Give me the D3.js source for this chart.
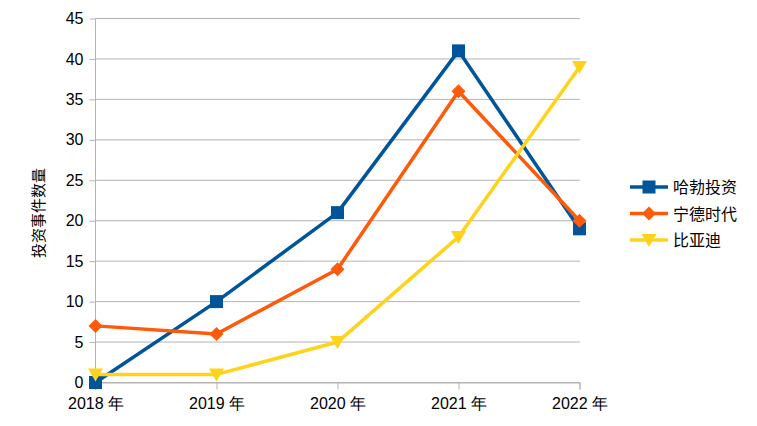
<!DOCTYPE html>
<html><head><meta charset="utf-8">
<script src="https://cdn.jsdelivr.net/npm/d3@7"></script>
<style>body{margin:0;background:#fff}svg{display:block;font-family:"Liberation Sans","Noto Sans CJK SC",sans-serif}</style>
</head><body><svg id="c" width="757" height="426"></svg>
<script>
const categories = ["2018 年","2019 年","2020 年","2021 年","2022 年"];
const seriesNames = ["哈勃投资","宁德时代","比亚迪"];
const haboValues = [0,10,21,41,19];
const ningdeValues = [7,6,14,36,20];
const byd = [1,1,5,18,39];
const yTicks = [0,5,10,15,20,25,30,35,40,45];
const yTitle = "投资事件数量";

const colors = ["#00559a","#ff5a0a","#ffd31c"];
const shapes = ["square","diamond","triangle"];
const series = [haboValues, ningdeValues, byd];

const svg = d3.select("#c");
const x = d3.scalePoint().domain(categories).range([95.5,579.5]);
const y = d3.scaleLinear().domain([0,45]).range([382.5,18.5]);

svg.append("g").selectAll("line").data(yTicks).join("line")
  .attr("x1",95.5).attr("x2",580).attr("y1",d=>y(d)).attr("y2",d=>y(d))
  .attr("stroke","#b3b3b3").attr("stroke-width",1);

const yAxis = svg.append("g").attr("transform","translate(95.5,0)")
  .call(d3.axisLeft(y).tickValues(yTicks).tickSize(6).tickPadding(6));
yAxis.select(".domain").attr("stroke","#b3b3b3").attr("d","M0,18.5V390");
yAxis.selectAll(".tick line").attr("stroke","#b3b3b3");
yAxis.selectAll("text").attr("font-size",16).attr("fill","#000").attr("font-family","Liberation Sans");

const xAxis = svg.append("g").attr("transform","translate(0,382.5)")
  .call(d3.axisBottom(x).tickSize(7).tickPadding(8));
xAxis.select(".domain").attr("stroke","#b3b3b3");
xAxis.selectAll(".tick line").attr("stroke","#b3b3b3");
xAxis.selectAll("text").attr("font-size",16).attr("fill","#000");

svg.append("text").attr("transform","translate(43.5,213) rotate(-90)")
  .attr("text-anchor","middle").attr("font-size",15).attr("fill","#000").text(yTitle);

const line = d3.line().x((d,i)=>x(categories[i])).y(d=>y(d));
function marker(g, shape, cx, cy, color){
  if(shape==="square") g.append("rect").attr("x",cx-6.5).attr("y",cy-6.5).attr("width",13).attr("height",13).attr("fill",color);
  else if(shape==="diamond") g.append("path").attr("d",`M${cx},${cy-7}L${cx+7},${cy}L${cx},${cy+7}L${cx-7},${cy}Z`).attr("fill",color);
  else g.append("path").attr("d",`M${cx-7.5},${cy-6}L${cx+7.5},${cy-6}L${cx},${cy+7}Z`).attr("fill",color);
}
series.forEach((vals,si)=>{
  const g = svg.append("g");
  g.append("path").datum(vals).attr("d",line).attr("fill","none").attr("stroke",colors[si]).attr("stroke-width",3.5).attr("stroke-linejoin","round");
  vals.forEach((v,i)=>marker(g,shapes[si],x(categories[i]),y(v),colors[si]));
});

seriesNames.forEach((n,i)=>{
  const ly = 187 + i*26.5;
  const g = svg.append("g");
  g.append("line").attr("x1",630).attr("x2",668).attr("y1",ly).attr("y2",ly).attr("stroke",colors[i]).attr("stroke-width",3.5);
  marker(g,shapes[i],649,ly,colors[i]);
  g.append("text").attr("x",673).attr("y",ly+6).attr("font-size",16).attr("fill","#000").text(n);
});
</script></body></html>
